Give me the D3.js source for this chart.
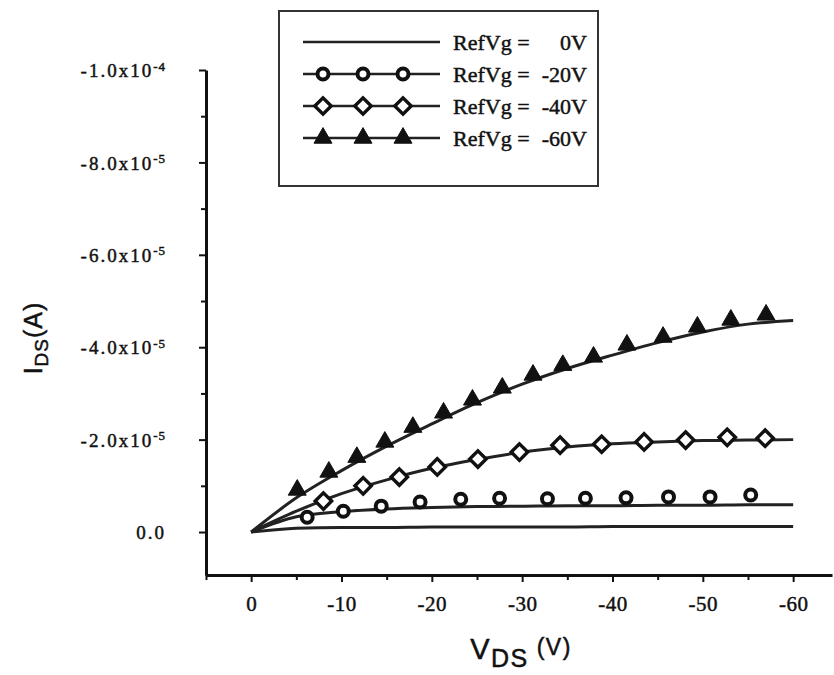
<!DOCTYPE html>
<html>
<head>
<meta charset="utf-8">
<script src="https://cdn.jsdelivr.net/npm/d3@7"></script>
<style>
  body { margin: 0; background: #fff; }
  svg { display: block; }
</style>
</head>
<body>
<div id="chart"></div>
<script>
// valores em unidades de 1e-5 A
const UNIT = 1e-5;
const SERIF = "'Liberation Serif', 'DejaVu Serif', serif";
const SANS = "'Liberation Sans', Arial, sans-serif";

const xTicksMajor = [0, -10, -20, -30, -40, -50, -60];
const xTicksMinor = [5, -5, -15, -25, -35, -45, -55];
const yTicksMajor = [0, -2, -4, -6, -8, -10];
const yTicksMinor = [-1, -3, -5, -7, -9];
const yTickLabels = [["0.0", ""], ["-2.0x10", "-5"], ["-4.0x10", "-5"], ["-6.0x10", "-5"], ["-8.0x10", "-5"], ["-1.0x10", "-4"]];

const legendLabels = ["0V", "-20V", "-40V", "-60V"];

// curvas (linhas) a cada 5 V
const lineVds = [0, -5, -10, -15, -20, -25, -30, -35, -40, -45, -50, -55, -60];
const line0  = [0, -0.08, -0.10, -0.10, -0.11, -0.11, -0.11, -0.11, -0.12, -0.12, -0.12, -0.12, -0.12];
const line20 = [0, -0.33, -0.44, -0.50, -0.53, -0.55, -0.56, -0.57, -0.57, -0.58, -0.58, -0.59, -0.59];
const line40 = [0, -0.45, -0.83, -1.13, -1.38, -1.57, -1.73, -1.84, -1.91, -1.95, -1.98, -1.99, -2.00];
const line60 = [0, -0.74, -1.33, -1.86, -2.34, -2.80, -3.20, -3.54, -3.83, -4.10, -4.33, -4.50, -4.58];

// marcadores
const vds20 = [-6.2, -10.2, -14.4, -18.7, -23.2, -27.5, -32.8, -37.0, -41.5, -46.2, -50.8, -55.3];
const ids20 = [-0.32, -0.45, -0.56, -0.65, -0.71, -0.73, -0.72, -0.73, -0.74, -0.76, -0.76, -0.80];
const vds40 = [-8.0, -12.4, -16.4, -20.6, -25.1, -29.7, -34.2, -38.8, -43.5, -48.1, -52.7, -56.9];
const ids40 = [-0.67, -1.00, -1.19, -1.41, -1.58, -1.73, -1.88, -1.90, -1.95, -1.99, -2.05, -2.03];
const vds60 = [-5.1, -8.6, -11.7, -14.8, -17.9, -21.3, -24.5, -27.8, -31.2, -34.5, -37.9, -41.6, -45.6, -49.4, -53.1, -57.0];
const ids60 = [-0.91, -1.30, -1.62, -1.95, -2.27, -2.58, -2.86, -3.12, -3.40, -3.61, -3.79, -4.05, -4.22, -4.44, -4.59, -4.70];

const config = { width: 834, height: 675, left: 206, right: 832, top: 70, bottom: 575 };

const svg = d3.select("#chart").append("svg")
  .attr("width", config.width)
  .attr("height", config.height);

const xScale = d3.scaleLinear().domain([5, -64.3]).range([config.left, config.right]);
const yScale = d3.scaleLinear().domain([0.93 * UNIT, -10 * UNIT]).range([config.bottom, config.top]);

function serifText(sel, size, spacing) {
  return sel.style("font-family", SERIF).style("font-size", size + "px")
    .style("letter-spacing", spacing + "px")
    .attr("fill", "#111").attr("stroke", "#111").attr("stroke-width", 0.45);
}

// Eixo X
const xAxis = svg.append("g").attr("transform", `translate(0,${config.bottom})`);
xAxis.call(d3.axisBottom(xScale).tickValues(xTicksMajor).tickSize(7).tickSizeOuter(0).tickFormat(""));
svg.append("g").attr("transform", `translate(0,${config.bottom})`)
  .call(d3.axisBottom(xScale).tickValues(xTicksMinor).tickSize(5).tickSizeOuter(0).tickFormat(""))
  .select(".domain").remove();
serifText(xAxis.selectAll(".tick").append("text"), 21, 0.5)
  .attr("y", 29).attr("dy", "0.35em")
  .attr("text-anchor", "middle")
  .text(d => d);

// Eixo Y
const yAxis = svg.append("g").attr("transform", `translate(${config.left},0)`);
yAxis.call(d3.axisLeft(yScale).tickValues(yTicksMajor.map(v => v * UNIT)).tickSize(7).tickSizeOuter(0).tickFormat(""));
svg.append("g").attr("transform", `translate(${config.left},0)`)
  .call(d3.axisLeft(yScale).tickValues(yTicksMinor.map(v => v * UNIT)).tickSize(5).tickSizeOuter(0).tickFormat(""))
  .select(".domain").remove();
yAxis.selectAll(".tick").each(function (d, i) {
  const lab = yTickLabels[i];
  const t = serifText(d3.select(this).append("text"), 19, 2)
    .attr("x", -40).attr("dy", "0.35em")
    .attr("text-anchor", "end")
    .text(lab[0]);
  if (lab[1]) {
    t.append("tspan").attr("dy", "-0.5em").style("font-size", "13px").style("letter-spacing", "1px").text(lab[1]);
  }
});

svg.selectAll(".domain").attr("stroke", "#111").attr("stroke-width", 3);
svg.selectAll(".tick line").attr("stroke", "#111").attr("stroke-width", 2);

// Titulos dos eixos
const yTitle = svg.append("text")
  .attr("transform", "translate(42,338) rotate(-90)")
  .attr("text-anchor", "middle")
  .style("font-family", SANS).style("font-size", "25px").style("letter-spacing", "1px")
  .attr("fill", "#111").attr("stroke", "#111").attr("stroke-width", 0.5);
yTitle.append("tspan").text("I");
yTitle.append("tspan").attr("dy", "6").style("font-size", "19px").text("DS");
yTitle.append("tspan").attr("dy", "-6").text("(A)");

const xTitle = svg.append("text")
  .attr("x", 521).attr("y", 659)
  .attr("text-anchor", "middle")
  .style("font-family", SANS).style("font-size", "29px").style("letter-spacing", "1.5px")
  .attr("fill", "#111").attr("stroke", "#111").attr("stroke-width", 0.5);
xTitle.append("tspan").text("V");
xTitle.append("tspan").attr("dy", "8").style("font-size", "25px").text("DS");
xTitle.append("tspan").attr("dy", "-12").style("font-size", "23px").text(" (V)");

// Linhas
const line = d3.line()
  .x(d => xScale(d[0]))
  .y(d => yScale(d[1] * UNIT))
  .curve(d3.curveMonotoneX);

[line0, line20, line40, line60].forEach(s => {
  svg.append("path")
    .datum(lineVds.map((v, i) => [v, s[i]]))
    .attr("d", line)
    .attr("fill", "none")
    .attr("stroke", "#222")
    .attr("stroke-width", 3);
});

// Marcadores
const circleSym = d3.symbol().type(d3.symbolCircle).size(95);
const diamondSym = d3.symbol().type(d3.symbolSquare).size(135);
const triangleSym = d3.symbol().type(d3.symbolTriangle).size(140);

function markerStyle(sel, kind) {
  if (kind === "circle") {
    return sel.attr("d", circleSym).attr("fill", "#fff").attr("stroke", "#111").attr("stroke-width", 4);
  } else if (kind === "diamond") {
    return sel.attr("d", diamondSym).attr("fill", "#fff").attr("stroke", "#111").attr("stroke-width", 3.4);
  }
  return sel.attr("d", triangleSym).attr("fill", "#111").attr("stroke", "#111").attr("stroke-width", 1);
}

function drawMarkers(g, xs, ys, kind) {
  const pts = xs.map((v, i) => [v, ys[i]]);
  const sel = g.selectAll("path.m").data(pts).enter().append("path").attr("class", "m");
  markerStyle(sel, kind)
    .attr("transform", d => `translate(${xScale(d[0])},${yScale(d[1] * UNIT)})` + (kind === "diamond" ? " rotate(45)" : ""));
}

drawMarkers(svg.append("g"), vds20, ids20, "circle");
drawMarkers(svg.append("g"), vds40, ids40, "diamond");
drawMarkers(svg.append("g"), vds60, ids60, "triangle");

// Legenda
const legend = svg.append("g");
legend.append("rect")
  .attr("x", 279).attr("y", 11).attr("width", 319).attr("height", 175)
  .attr("fill", "none").attr("stroke", "#333").attr("stroke-width", 2);

const kinds = [null, "circle", "diamond", "triangle"];
legendLabels.forEach((lab, i) => {
  const y = 42 + i * 32;
  const row = legend.append("g");
  row.append("line").attr("x1", 303).attr("x2", 440).attr("y1", y).attr("y2", y)
    .attr("stroke", "#222").attr("stroke-width", 2.6);
  if (kinds[i]) {
    const sel = row.selectAll("path").data([323, 363, 403]).enter().append("path");
    markerStyle(sel, kinds[i])
      .attr("transform", d => `translate(${d},${y})` + (kinds[i] === "diamond" ? " rotate(45)" : ""));
  }
  serifText(row.append("text"), 22, 0)
    .attr("x", 453).attr("y", y).attr("dy", "0.35em")
    .text("RefVg =");
  serifText(row.append("text"), 22, 0)
    .attr("x", 587).attr("y", y).attr("dy", "0.35em")
    .attr("text-anchor", "end")
    .text(lab);
});
</script>
</body>
</html>
